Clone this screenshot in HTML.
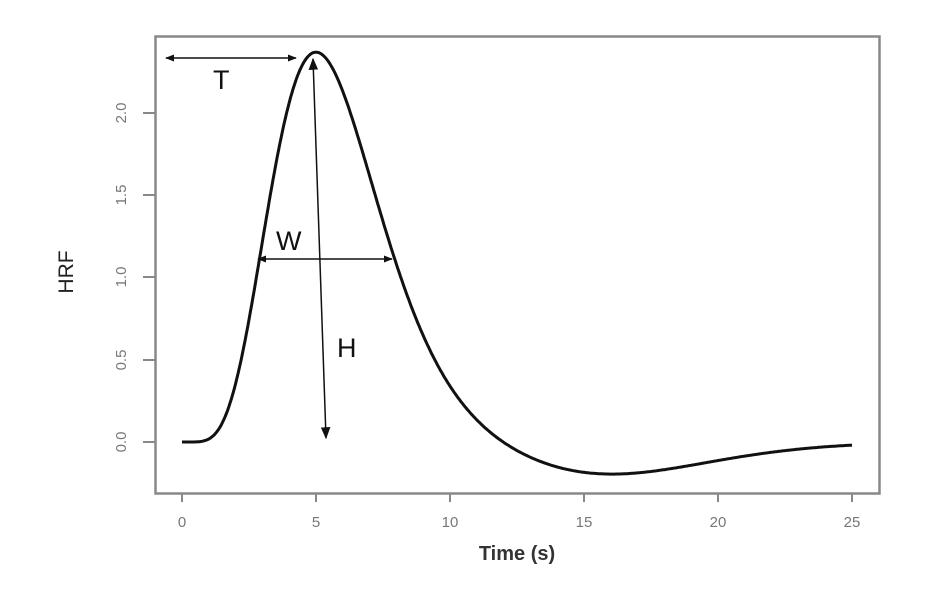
<!DOCTYPE html>
<html><head><meta charset="utf-8"><style>
body{margin:0;background:#fff}
svg{display:block;font-family:"Liberation Sans",sans-serif}
</style></head><body>
<svg id="s" width="930" height="600" viewBox="0 0 930 600">
<defs>
<marker id="a" viewBox="0 0 10 10" refX="9" refY="5" markerWidth="9" markerHeight="9" orient="auto-start-reverse" markerUnits="userSpaceOnUse">
<path d="M0,1 L10,5 L0,9 z" fill="#111"/></marker>
<marker id="b" viewBox="0 0 10 10" refX="9" refY="5" markerWidth="12" markerHeight="12" orient="auto-start-reverse" markerUnits="userSpaceOnUse">
<path d="M0,1 L10,5 L0,9 z" fill="#111"/></marker>
</defs>
<rect x="155.5" y="36.5" width="724" height="457" fill="none" stroke="#888" stroke-width="2.5"/>
<g stroke="#888" stroke-width="2">
<line x1="182" y1="494" x2="182" y2="502"/><line x1="316" y1="494" x2="316" y2="502"/>
<line x1="450" y1="494" x2="450" y2="502"/><line x1="584" y1="494" x2="584" y2="502"/>
<line x1="718" y1="494" x2="718" y2="502"/><line x1="852" y1="494" x2="852" y2="502"/>
<line x1="143" y1="442" x2="155" y2="442"/><line x1="143" y1="360" x2="155" y2="360"/>
<line x1="143" y1="277" x2="155" y2="277"/><line x1="143" y1="195" x2="155" y2="195"/>
<line x1="143" y1="113" x2="155" y2="113"/>
</g>
<g fill="#777" font-size="15" text-anchor="middle">
<text x="182" y="527">0</text><text x="316" y="527">5</text><text x="450" y="527">10</text>
<text x="584" y="527">15</text><text x="718" y="527">20</text><text x="852" y="527">25</text>
<text transform="translate(126,442) rotate(-90)">0.0</text>
<text transform="translate(126,360) rotate(-90)">0.5</text>
<text transform="translate(126,277) rotate(-90)">1.0</text>
<text transform="translate(126,195) rotate(-90)">1.5</text>
<text transform="translate(126,113) rotate(-90)">2.0</text>
</g>
<text x="517" y="560" font-size="20" font-weight="bold" fill="#333" text-anchor="middle">Time (s)</text>
<text transform="translate(73,272) rotate(-90)" font-size="21" fill="#222" text-anchor="middle">HRF</text>
<path id="c" fill="none" stroke="#111" stroke-width="3"/>
<g stroke="#111" stroke-width="1.5">
<line x1="166" y1="58" x2="296" y2="58" marker-start="url(#a)" marker-end="url(#a)"/>
<line x1="258" y1="259" x2="392" y2="259" marker-start="url(#a)" marker-end="url(#a)"/>
<line x1="313" y1="59" x2="326" y2="438" marker-start="url(#b)" marker-end="url(#b)"/>
</g>
<g font-size="27" fill="#111">
<text x="213" y="89">T</text><text x="276" y="250">W</text><text x="337" y="357">H</text>
</g>
</svg>
<script>
function g(t,a,s){if(t<=0)return 0;return Math.exp((a-1)*Math.log(t/s)-t/s);}
var a1=7,s1=5/6,a2=20,s2=15.8/19;
var p1=g(5,a1,s1),p2=g(15.8,a2,s2);
var d="";
for(var i=0;i<=500;i++){var t=i*25/500;
var h=2.37*g(t,a1,s1)/p1-0.2*g(t,a2,s2)/p2;
var x=182+t*26.8,y=442-h*164.5;
d+=(i?"L":"M")+x.toFixed(1)+","+y.toFixed(1);}
document.getElementById("c").setAttribute("d",d);
</script>
</body></html>
